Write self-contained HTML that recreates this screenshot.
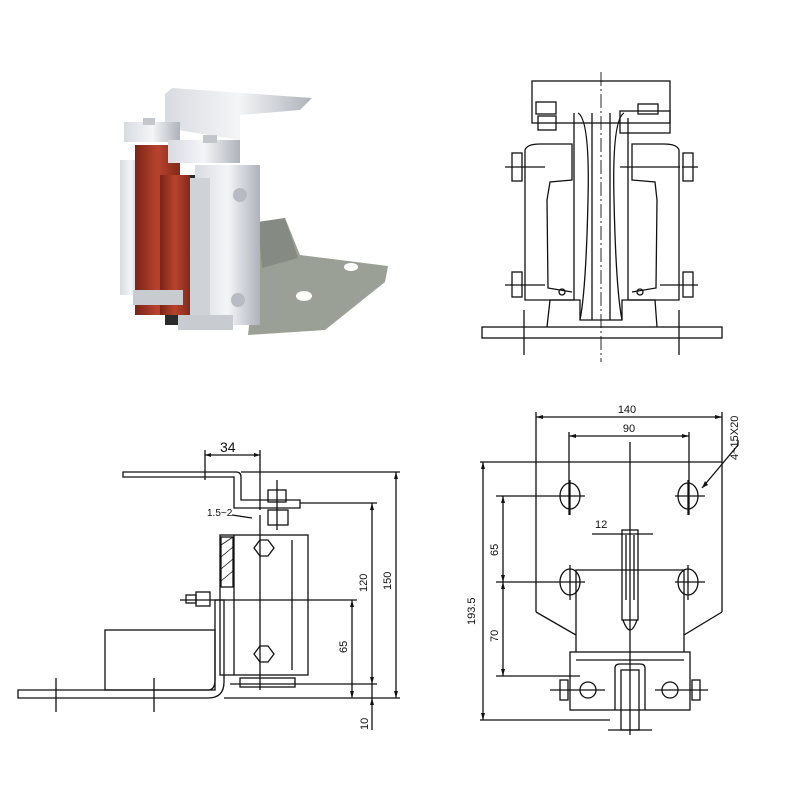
<!DOCTYPE html>
<html><head><style>
body{margin:0;background:#fff}
svg{display:block}
text{font-family:"Liberation Sans",sans-serif;fill:#111}
</style></head><body>
<svg width="800" height="800" viewBox="0 0 800 800" xmlns="http://www.w3.org/2000/svg">
<defs>
<linearGradient id="sil" x1="0" x2="1"><stop offset="0" stop-color="#d8dbe0"/><stop offset="0.5" stop-color="#f4f5f7"/><stop offset="1" stop-color="#aeb3ba"/></linearGradient>
<linearGradient id="red" x1="0" x2="1"><stop offset="0" stop-color="#7a2416"/><stop offset="0.5" stop-color="#b8432e"/><stop offset="1" stop-color="#82291a"/></linearGradient>
</defs>
<!-- PHOTO -->
<polygon points="258,222 285,218 300,255 388,266 385,282 325,330 248,335 252,300" fill="#9aa096"/>
<polygon points="258,222 285,218 298,258 262,268" fill="#858b82"/>
<ellipse cx="351" cy="267" rx="7" ry="4" fill="#fff"/>
<ellipse cx="304" cy="296" rx="8" ry="5" fill="#fff"/>
<polygon points="165,94 172,88 312,98 300,110 240,115 240,140 165,128" fill="url(#sil)"/>
<rect x="124" y="122" width="56" height="20" fill="url(#sil)"/>
<rect x="143" y="118" width="12" height="7" fill="#c3c7cc"/>
<rect x="120" y="160" width="22" height="135" fill="url(#sil)"/>
<rect x="135" y="145" width="45" height="170" fill="url(#red)"/>
<rect x="168" y="140" width="72" height="23" fill="url(#sil)"/>
<rect x="203" y="135" width="14" height="8" fill="#c3c7cc"/>
<rect x="165" y="175" width="40" height="150" fill="#2a2a2a"/>
<rect x="160" y="175" width="30" height="140" fill="url(#red)"/>
<rect x="195" y="165" width="65" height="160" fill="url(#sil)"/>
<rect x="190" y="178" width="20" height="148" fill="#cfd3d8"/>
<circle cx="240" cy="195" r="7" fill="#b8bcc2"/>
<circle cx="238" cy="300" r="7" fill="#b8bcc2"/>
<rect x="133" y="290" width="50" height="15" fill="#c8ccd1"/>
<rect x="178" y="315" width="55" height="15" fill="#c8ccd1"/>

<g fill="none" stroke="#111" stroke-width="1.3">
<!-- TOP RIGHT -->
<rect x="532" y="81" width="138" height="42"/>
<rect x="620" y="111" width="50" height="22"/>
<line x1="601" y1="72" x2="601" y2="362" stroke-dasharray="14,3,2,3" stroke-width="0.9"/>
<rect x="482" y="327" width="240" height="11"/>
<path d="M547,327 L550,300 L580,300 L580,320 L622,320 L622,300 L655,300 L657,327"/>
<path d="M578,113 Q590,120 588,200 Q586,290 580,320 M624,113 Q612,120 614,200 Q616,290 622,320"/>
<line x1="574" y1="113" x2="574" y2="300"/><line x1="628" y1="118" x2="628" y2="300"/>
<line x1="592" y1="113" x2="592" y2="320"/><line x1="610" y1="113" x2="610" y2="320"/>
<path d="M525,150 L525,300 L575,300 M525,150 Q527,144 540,144 L572,144 L572,180 L550,182 L547,200 L548,288 L572,292"/>
<path d="M679,150 L679,300 L628,300 M679,150 Q677,144 664,144 L632,144 L632,180 L655,182 L657,200 L656,288 L632,292"/>
<rect x="536" y="102" width="20" height="12"/><rect x="538" y="116" width="18" height="14"/>
<rect x="638" y="104" width="20" height="10"/>
<rect x="512" y="153" width="10" height="28"/><rect x="683" y="153" width="10" height="28"/>
<rect x="512" y="272" width="10" height="25"/><rect x="683" y="272" width="10" height="25"/>
<line x1="505" y1="167" x2="545" y2="167"/><line x1="682" y1="167" x2="698" y2="167"/>
<line x1="505" y1="285" x2="545" y2="285"/><line x1="660" y1="285" x2="698" y2="285"/>
<circle cx="562" cy="292" r="3"/><circle cx="640" cy="292" r="3"/>
<line x1="524" y1="310" x2="524" y2="355"/><line x1="679" y1="310" x2="679" y2="355"/>
<line x1="620" y1="167" x2="680" y2="167"/>

<!-- BOTTOM LEFT -->
<path d="M123,472 L236,472 Q241,472 241,477 L241,500 L300,500 L300,508 L234,508 L234,477 L123,477 Z"/>
<line x1="205" y1="450" x2="205" y2="480"/><line x1="260" y1="450" x2="260" y2="510"/>
<line x1="205" y1="455" x2="260" y2="455"/>
<line x1="241" y1="472" x2="400" y2="472"/>
<line x1="300" y1="503" x2="377" y2="503"/>
<rect x="220" y="535" width="88" height="140"/>
<line x1="234" y1="535" x2="234" y2="675"/><line x1="292" y1="540" x2="292" y2="670"/>
<rect x="221" y="537" width="12" height="50" fill="#fff"/>
<path d="M221,545 L233,537 M221,557 L233,547 M221,569 L233,559 M221,581 L233,571" stroke-width="0.8"/>
<rect x="268" y="490" width="18" height="12"/><rect x="268" y="510" width="20" height="15"/>
<line x1="277" y1="480" x2="277" y2="530"/>
<polygon points="254,548 260,540 268,540 274,548 268,556 260,556"/>
<polygon points="254,654 260,646 268,646 274,654 268,662 260,662"/>
<line x1="260" y1="515" x2="260" y2="690"/>
<path d="M18,690 L208,690 Q215,690 215,680 L215,600 L224,600 L224,682 Q224,698 208,698 L18,698 Z"/>
<rect x="105" y="630" width="110" height="60"/>
<line x1="56" y1="678" x2="56" y2="712"/><line x1="154" y1="678" x2="154" y2="712"/>
<rect x="240" y="678" width="55" height="9"/>
<rect x="196" y="592" width="14" height="14"/><rect x="186" y="595" width="10" height="8"/>
<line x1="180" y1="600" x2="357" y2="600"/>
<line x1="224" y1="698" x2="400" y2="698"/>
<line x1="230" y1="684" x2="377" y2="684"/>
<line x1="396" y1="472" x2="396" y2="698"/>
<line x1="372" y1="503" x2="372" y2="730"/>
<line x1="352" y1="600" x2="352" y2="698"/>
<line x1="232" y1="515" x2="252" y2="518"/>

<!-- BOTTOM RIGHT -->
<line x1="536" y1="412" x2="536" y2="612"/><line x1="722" y1="412" x2="722" y2="612"/>
<line x1="536" y1="417" x2="722" y2="417"/>
<line x1="569" y1="432" x2="569" y2="515"/><line x1="689" y1="432" x2="689" y2="515"/>
<line x1="569" y1="436" x2="689" y2="436"/>
<line x1="480" y1="462" x2="722" y2="462"/>
<path d="M536,612 L576,635 L576,652 M722,612 L684,635 L684,652"/>
<path d="M576,635 L576,570 L684,570 L684,635"/>
<line x1="630" y1="442" x2="630" y2="735"/>
<ellipse cx="570" cy="496" rx="10" ry="13"/><ellipse cx="688" cy="496" rx="10" ry="13"/>
<ellipse cx="570" cy="582" rx="10" ry="13"/><ellipse cx="688" cy="582" rx="10" ry="13"/>
<line x1="496" y1="496" x2="585" y2="496"/><line x1="675" y1="496" x2="705" y2="496"/>
<line x1="496" y1="582" x2="585" y2="582"/><line x1="675" y1="582" x2="705" y2="582"/>
<line x1="570" y1="480" x2="570" y2="515"/><line x1="688" y1="480" x2="688" y2="515"/>
<line x1="570" y1="565" x2="570" y2="600"/><line x1="688" y1="565" x2="688" y2="600"/>
<line x1="483" y1="462" x2="483" y2="720"/><line x1="480" y1="720" x2="610" y2="720"/>
<line x1="503" y1="496" x2="503" y2="676"/><line x1="496" y1="676" x2="580" y2="676"/>
<rect x="622" y="530" width="16" height="90"/>
<line x1="626" y1="535" x2="626" y2="600"/><line x1="634" y1="535" x2="634" y2="600"/>
<path d="M623,620 Q630,640 637,620"/>
<line x1="592" y1="534" x2="653" y2="534"/>
<rect x="570" y="652" width="120" height="58"/>
<line x1="576" y1="660" x2="684" y2="660"/>
<circle cx="588" cy="690" r="8"/><circle cx="670" cy="690" r="8"/>
<line x1="550" y1="690" x2="605" y2="690"/><line x1="655" y1="690" x2="708" y2="690"/>
<rect x="560" y="680" width="8" height="20"/><rect x="692" y="680" width="8" height="20"/>
<path d="M615,710 L615,668 Q615,664 620,664 L640,664 Q645,664 645,668 L645,710"/>
<rect x="621" y="670" width="18" height="60"/>
<line x1="608" y1="730" x2="652" y2="730"/>
<path d="M702,488 L738,445 L738,440"/>
</g>
<!-- arrowheads -->
<g fill="#111">
<polygon points="205,455 211,453 211,457"/><polygon points="260,455 254,453 254,457"/>
<polygon points="536,417 543,415 543,419"/><polygon points="722,417 715,415 715,419"/>
<polygon points="569,436 576,434 576,438"/><polygon points="689,436 682,434 682,438"/>
<polygon points="396,472 394,479 398,479"/><polygon points="396,698 394,691 398,691"/>
<polygon points="372,503 370,510 374,510"/><polygon points="372,684 370,677 374,677"/>
<polygon points="352,600 350,607 354,607"/><polygon points="352,698 350,691 354,691"/>
<polygon points="372,698 370,705 374,705"/>
<polygon points="483,462 481,469 485,469"/><polygon points="483,720 481,713 485,713"/>
<polygon points="503,496 501,503 505,503"/><polygon points="503,582 501,575 505,575"/><polygon points="503,582 501,589 505,589"/><polygon points="503,676 501,669 505,669"/>
<polygon points="702,488 705,481 708,485"/>
</g>
<text x="220" y="452" font-size="14">34</text>
<text x="207" y="516" font-size="10">1.5~2</text>
<text x="627" y="413" font-size="11" text-anchor="middle">140</text>
<text x="629" y="432" font-size="11" text-anchor="middle">90</text>
<text x="595" y="528" font-size="11">12</text>
<g font-size="11">
<text transform="translate(367,592) rotate(-90)">120</text>
<text transform="translate(391,590) rotate(-90)">150</text>
<text transform="translate(347,653) rotate(-90)">65</text>
<text transform="translate(368,730) rotate(-90)">10</text>
<text transform="translate(475,625) rotate(-90)">193.5</text>
<text transform="translate(498,556) rotate(-90)">65</text>
<text transform="translate(498,642) rotate(-90)">70</text>
<text transform="translate(738,460) rotate(-90)">4~15X20</text>
</g>
</svg>
</body></html>
